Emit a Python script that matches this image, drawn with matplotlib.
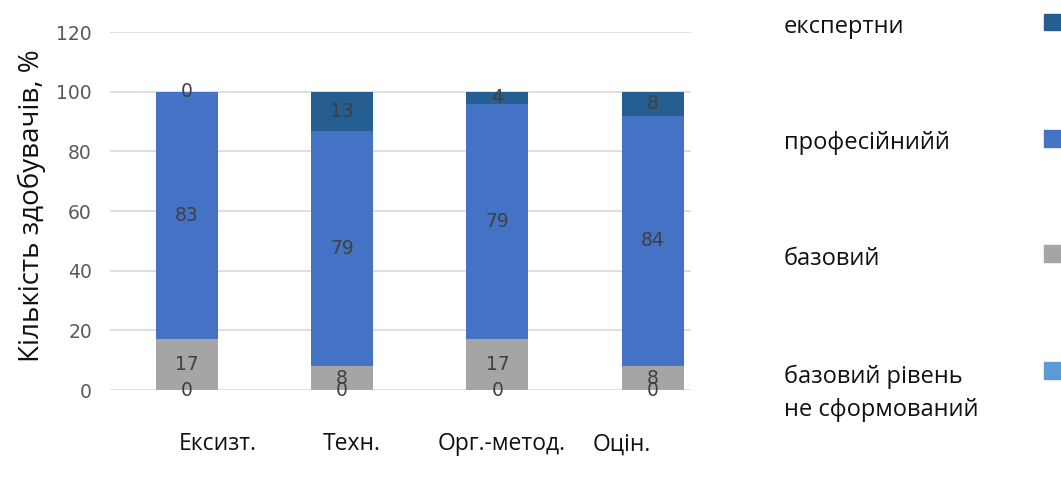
import matplotlib.pyplot as plt
import numpy as np
from matplotlib.patches import Rectangle

categories = ['Ексизт.', 'Техн.', 'Орг.-метод.', 'Оцін.']
# stacked from the bottom up
not_formed = [0, 0, 0, 0]
basic = [17, 8, 17, 8]
professional = [83, 79, 79, 84]
expert = [0, 13, 4, 8]

series = [
    ('базовий рівень\nне сформований', not_formed, '#5B9BD5'),
    ('базовий', basic, '#A5A5A5'),
    ('професійнийй', professional, '#4472C4'),
    ('експертни', expert, '#255E91'),
]

text_font = ['Open Sans', 'DejaVu Sans']
num_font = ['Liberation Sans Narrow', 'DejaVu Sans Condensed', 'DejaVu Sans']

fig = plt.figure(figsize=(10.61, 4.86), dpi=100)
ax = fig.add_axes([0.1037, 0.1975, 0.548, 0.7365])

x = np.arange(len(categories))
bottom = np.zeros(len(categories))
for name, vals, color in series:
    vals = np.array(vals, dtype=float)
    ax.bar(x, vals, width=0.4, bottom=bottom, color=color, zorder=3)
    for xi, b, v in zip(x, bottom, vals):
        ax.text(xi, b + v / 2, '%d' % v, ha='center', va='center',
                fontsize=13.5, color='#404040', family=num_font, zorder=4)
    bottom += vals

ax.set_xlim(-0.495, 3.25)
ax.set_ylim(0, 120)
ax.set_yticks(range(0, 121, 20))
ax.yaxis.grid(True, color='#D9D9D9', linewidth=1.2, zorder=0)
ax.tick_params(axis='y', length=0, pad=13, labelsize=13.5, labelcolor='#595959')
for lbl in ax.get_yticklabels():
    lbl.set_family(num_font)
ax.set_xticks([])
for s in ax.spines.values():
    s.set_visible(False)

fig.text(0.03, 0.576, 'Кількість здобувачів, %', rotation=90, ha='center',
         va='center', fontsize=20, family=text_font, color='#111111')

# category names under the plot
label_x = [0.2055, 0.331, 0.473, 0.586]
for lx, name in zip(label_x, categories):
    fig.text(lx, 0.086, name, ha='center', va='center', fontsize=16.5,
             family=text_font, color='#111111')

# legend column on the right, top entry first
legend_y = [0.945, 0.705, 0.468, 0.19]
for (name, vals, color), ly in zip(series[::-1], legend_y):
    fig.text(0.739, ly, name, ha='left', va='center', fontsize=17,
             family=text_font, color='#111111', linespacing=1.5)
    my = ly + (0.048 if '\n' in name else 0.01)
    fig.add_artist(Rectangle((0.984, my - 0.017), 0.017, 0.034,
                             transform=fig.transFigure, color=color))

fig.savefig('out.png', dpi=100)
